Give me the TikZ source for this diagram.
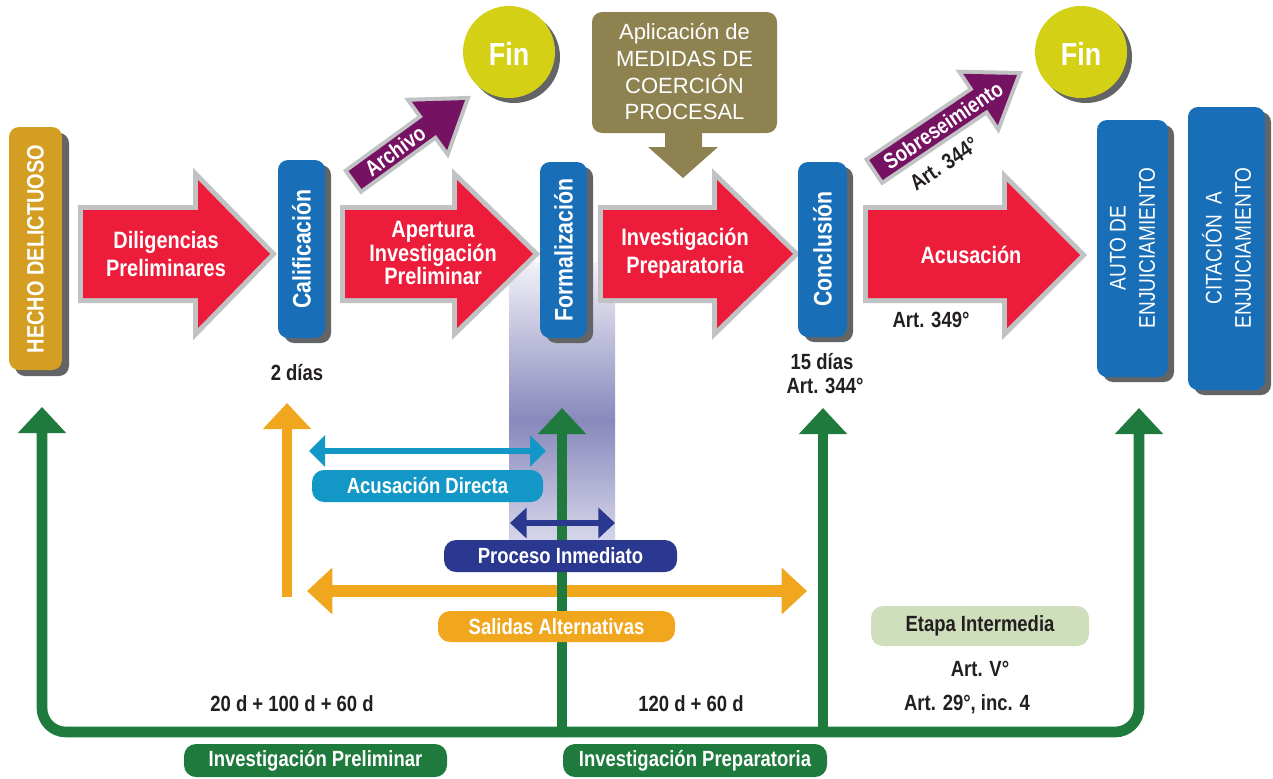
\documentclass[tikz,border=0pt]{standalone}
\usepackage{fontspec}
\setmainfont{Liberation Sans}
\newfontfamily\narrowsans[FakeStretch=0.84]{Liberation Sans}
\usetikzlibrary{arrows.meta}

\definecolor{hechogold}{RGB}{212,158,34}
\definecolor{stepred}{RGB}{236,28,58}
\definecolor{stepblue}{RGB}{24,111,184}
\definecolor{exitpurple}{RGB}{118,18,98}
\definecolor{finyellow}{RGB}{212,208,22}
\definecolor{coercion}{RGB}{142,131,80}
\definecolor{shadowgray}{RGB}{99,100,102}
\definecolor{rimgray}{RGB}{192,194,196}
\definecolor{phasegreen}{RGB}{31,122,61}
\definecolor{exitorange}{RGB}{240,167,30}
\definecolor{directcyan}{RGB}{19,151,199}
\definecolor{quicknavy}{RGB}{43,56,143}
\definecolor{midgreen}{RGB}{208,223,187}
\definecolor{inkblack}{RGB}{35,31,32}
\definecolor{bandtop}{RGB}{242,242,249}
\definecolor{bandmid}{RGB}{136,136,188}
\definecolor{bandbot}{RGB}{214,214,234}

\tikzset{every picture/.style={line width=0.75pt}}

\begin{document}
\begin{tikzpicture}[x=0.75pt,y=0.75pt,yscale=-1,xscale=1,
  steparrow/.style={fill=stepred, preaction={draw=rimgray, line width=7.5pt}},
  exitarrow/.style={fill=exitpurple, preaction={draw=rimgray, line width=6pt}},
  steptext/.style={font=\narrowsans\bfseries\fontsize{17.8}{21}\selectfont, text=white, align=center, inner sep=0.75pt},
  boxtext/.style={font=\narrowsans\bfseries\fontsize{19}{22}\selectfont, text=white, rotate=90, align=center, inner sep=0.75pt},
  capstext/.style={font=\narrowsans\fontsize{17}{22}\selectfont, text=white, rotate=90, align=center, inner sep=0.75pt},
  notetext/.style={font=\narrowsans\bfseries\fontsize{16.5}{19.8}\selectfont, text=inkblack, inner sep=0.75pt},
  pilltext/.style={font=\narrowsans\bfseries\fontsize{16.5}{19.8}\selectfont, text=white, inner sep=0.75pt},
  fintext/.style={font=\narrowsans\bfseries\fontsize{24}{26}\selectfont, text=white, inner sep=0.75pt},
  greenarrow/.style={draw=phasegreen, line width=8pt, -{Triangle[width=35pt,length=19.5pt]}},
  pill/.style={rounded corners=9pt}
]
\useasboundingbox (0,0) rectangle (1273,778);

%Shape: Shaded band (upper and lower half)
\shade [top color=bandtop, bottom color=bandmid] (509,262) rectangle (615,421) ;
\shade [top color=bandmid, bottom color=bandbot] (509,420) rectangle (615,540) ;

%Shape: Rectangle (hecho)
\fill [shadowgray, rounded corners=7.5pt] (15,133) rectangle (69,376) ;
\fill [hechogold, rounded corners=7.5pt] (9,127) rectangle (62,370) ;

%Shape: Right Arrow
\path [steparrow] (83,210) -- (198,210) -- (198,180) -- (270,254) -- (198,328) -- (198,298) -- (83,298) -- cycle ;
%Shape: Right Arrow
\path [steparrow] (345,210) -- (457,210) -- (457,180) -- (533,254) -- (457,328) -- (457,298) -- (345,298) -- cycle ;
%Shape: Right Arrow
\path [steparrow] (603,210) -- (717,210) -- (717,180) -- (793,254) -- (717,328) -- (717,298) -- (603,298) -- cycle ;
%Shape: Right Arrow
\path [steparrow] (868,210) -- (1007,210) -- (1007,182) -- (1080,255) -- (1007,328) -- (1007,298) -- (868,298) -- cycle ;

%Shape: Rectangles (blue steps)
\fill [shadowgray, rounded corners=7.5pt] (284,165) rectangle (331,343) ;
\fill [stepblue, rounded corners=7.5pt] (278,160) rectangle (325,338) ;
\fill [shadowgray, rounded corners=7.5pt] (546,167) rectangle (593,343) ;
\fill [stepblue, rounded corners=7.5pt] (540,162) rectangle (587,338) ;
\fill [shadowgray, rounded corners=7.5pt] (804,167) rectangle (853,342) ;
\fill [stepblue, rounded corners=7.5pt] (798,162) rectangle (847,337) ;
\fill [shadowgray, rounded corners=7.5pt] (1103,125) rectangle (1174,382) ;
\fill [stepblue, rounded corners=7.5pt] (1097,120) rectangle (1168,377) ;
\fill [shadowgray, rounded corners=7.5pt] (1194,112) rectangle (1271,395) ;
\fill [stepblue, rounded corners=7.5pt] (1188,107) rectangle (1265,390) ;

%Shape: Arrow (archivo)
\begin{scope}[shift={(355,180)}, rotate=-36]
\path [exitarrow] (0,-11) -- (92,-11) -- (92,-30) -- (136,0) -- (92,30) -- (92,11) -- (0,11) -- cycle ;
\end{scope}
%Shape: Arrow (sobreseimiento)
\begin{scope}[shift={(876,170)}, rotate=-34]
\path [exitarrow] (0,-12) -- (126,-12) -- (126,-31) -- (170,0) -- (126,31) -- (126,12) -- (0,12) -- cycle ;
\end{scope}

%Shape: Circles (fin)
\fill [shadowgray] (514,57) circle [radius=46] ;
\fill [finyellow] (509,52) circle [radius=46] ;
\fill [shadowgray] (1086,57) circle [radius=46] ;
\fill [finyellow] (1081,52) circle [radius=46] ;

%Shape: Callout (medidas)
\fill [coercion, rounded corners=7.5pt] (592,12) rectangle (777,133) ;
\fill [coercion] (665,130) -- (702,130) -- (702,147) -- (718,147) -- (683,178) -- (648,147) -- (665,147) -- cycle ;

% Text Node
\draw (35.5,249) node (hecho) [boxtext, font=\narrowsans\bfseries\fontsize{17.8}{21}\selectfont] {HECHO DELICTUOSO};
% Text Node
\draw (166,254) node (dilig) [steptext] {Diligencias\\Preliminares};
% Text Node
\draw (301.5,249) node (calif) [boxtext] {Calificación};
% Text Node
\draw (297,373) node (dias2) [notetext] {2 días};
% Text Node
\draw (433,253) node (apert) [steptext, font=\narrowsans\bfseries\fontsize{17.8}{17.6}\selectfont] {Apertura\\Investigación\\Preliminar};
% Text Node
\draw (563.5,250) node (formal) [boxtext] {Formalización};
% Text Node
\draw (685,253) node (invprep) [steptext] {Investigación\\Preparatoria};
% Text Node
\draw (822.5,249) node (concl) [boxtext] {Conclusión};
% Text Node
\draw (822,362) node (dias15) [notetext] {15 días};
% Text Node
\draw (825,386) node (artconcl) [notetext] {Art. 344°};
% Text Node
\draw (971,255) node (acus) [steptext] {Acusación};
% Text Node
\draw (931,320) node (artacus) [notetext] {Art. 349°};
% Text Node
\draw (684.5,72) node (medidas) [font=\fontsize{16.5}{20}\selectfont, text=white, align=center, inner sep=0.75pt] {Aplicación de\\MEDIDAS DE\\COERCIÓN\\PROCESAL};
% Text Node
\draw (1132.5,248) node (auto) [capstext] {AUTO DE\\ENJUICIAMIENTO};
% Text Node
\draw (1226.5,248) node (citac) [capstext] {CITACIÓN\ \ A\\ENJUICIAMIENTO};
% Text Node
\draw (509,54) node (fin1) [fintext] {Fin};
% Text Node
\draw (1081,54) node (fin2) [fintext] {Fin};
% Text Node
\draw (395,151) node (archivo) [pilltext, rotate=36] {Archivo};
% Text Node
\draw (943,125) node (sobre) [pilltext, rotate=34] {Sobreseimiento};
% Text Node
\draw (944,164) node (artsobre) [notetext, rotate=34] {Art. 344°};

%Straight Lines (salidas alternativas)
\coordinate (salfoot) at (287,597);
\coordinate (saltop) at (287,403);
\coordinate (salleft) at (307,591);
\coordinate (salright) at (807,591);
\draw [exitorange, line width=7.5pt, -{Triangle[width=35pt,length=19.5pt]}] (salfoot) -- (saltop) ;
\draw [exitorange, line width=9pt, {Triangle[width=34pt,length=19pt]}-{Triangle[width=34pt,length=19pt]}] (salleft) -- (salright) ;

%Straight Lines (etapas)
\coordinate (brleft) at (42,732);
\coordinate (brform) at (562,732);
\coordinate (brconc) at (823,732);
\coordinate (brright) at (1139,732);
\coordinate (tiphecho) at (42,407);
\coordinate (tipform) at (562,408);
\coordinate (tipconc) at (823,408);
\coordinate (tipauto) at (1139,408);
\draw [greenarrow, rounded corners=18pt] (brform) -- (brleft) -- (tiphecho) ;
\draw [greenarrow, rounded corners=18pt] (brform) -- (brright) -- (tipauto) ;
\draw [greenarrow] (brform) -- (tipform) ;
\draw [greenarrow] (brconc) -- (tipconc) ;

%Straight Lines (acusacion directa, proceso inmediato)
\coordinate (dirleft) at (309,451);
\coordinate (dirright) at (546,451);
\coordinate (inmleft) at (510,523);
\coordinate (inmright) at (615,523);
\draw [directcyan, line width=4.5pt, {Triangle[width=23pt,length=12pt]}-{Triangle[width=23pt,length=12pt]}] (dirleft) -- (dirright) ;
\draw [quicknavy, line width=4.5pt, {Triangle[width=22.5pt,length=12.5pt]}-{Triangle[width=22.5pt,length=12.5pt]}] (inmleft) -- (inmright) ;

%Shape: Rounded Rectangles (labels)
\fill [directcyan, pill] (312,470) rectangle (543,502) ;
\fill [quicknavy, pill] (444,540) rectangle (677,572) ;
\fill [exitorange, pill] (438,611) rectangle (675,642) ;
\fill [midgreen, pill] (871,606) rectangle (1089,646) ;
\fill [phasegreen, pill] (184,744) rectangle (447,777) ;
\fill [phasegreen, pill] (563,744) rectangle (827,777) ;

% Text Node
\draw (427.5,486) node (directa) [pilltext] {Acusación Directa};
% Text Node
\draw (560.5,556) node (inmediato) [pilltext] {Proceso Inmediato};
% Text Node
\draw (556.5,626.5) node (salidas) [pilltext] {Salidas Alternativas};
% Text Node
\draw (980,626) node (intermedia) [notetext] {Etapa Intermedia};
% Text Node
\draw (980,669) node (artv) [notetext] {Art. V°};
% Text Node
\draw (967,704) node (art29) [notetext] {Art. 29°, inc. 4};
% Text Node
\draw (691,704) node (plazoprep) [notetext] {120 d + 60 d};
% Text Node
\draw (292,704) node (plazoprel) [notetext] {20 d + 100 d + 60 d};
% Text Node
\draw (315.5,760.5) node (etapaprel) [pilltext] {Investigación Preliminar};
% Text Node
\draw (695,760.5) node (etapaprep) [pilltext] {Investigación Preparatoria};

\end{tikzpicture}
\end{document}
